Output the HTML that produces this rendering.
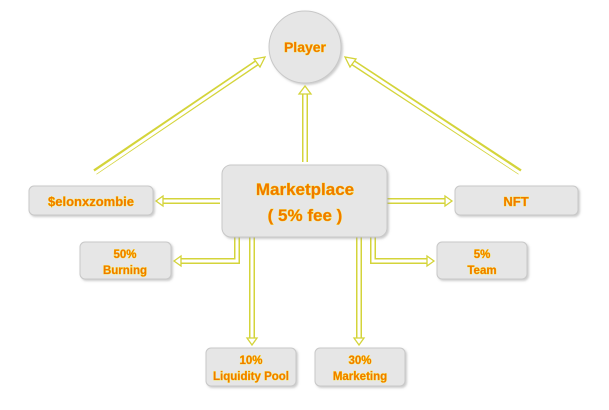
<!DOCTYPE html>
<html><head><meta charset="utf-8"><style>
html,body{margin:0;padding:0;background:#fff;width:609px;height:410px;overflow:hidden}
text{font-family:"Liberation Sans",sans-serif;font-weight:bold;fill:#f07800;stroke:#ffe800;stroke-width:0.6px;paint-order:stroke}
</style></head><body>
<svg width="609" height="410" viewBox="0 0 609 410" xmlns="http://www.w3.org/2000/svg">
<defs>
<filter id="sh" x="-10%" y="-10%" width="130%" height="130%"><feDropShadow dx="1.5" dy="1.5" stdDeviation="1" flood-color="#999" flood-opacity="0.5"/></filter>
</defs>
<g fill="none" stroke-linejoin="miter">
<g stroke="#d4d43a" stroke-width="6">
<polyline points="305,162 305,92"/>
<polyline points="95,172 258,62"/>
<polyline points="520,172 352,62"/>
<polyline points="220,201 162,201"/>
<polyline points="387,201 446,201"/>
<polyline points="237,237 237,261 180,261"/>
<polyline points="373,237 373,261 428,261"/>
<polyline points="252,237 252,339"/>
<polyline points="359,237 359,339"/>
</g>
<g stroke="#fff" stroke-width="3">
<polyline points="305,163 305,92"/>
<polyline points="95,173 258,62"/>
<polyline points="520,173 352,62"/>
<polyline points="221,201 162,201"/>
<polyline points="386,201 446,201"/>
<polyline points="237,236 237,261 180,261"/>
<polyline points="373,236 373,261 428,261"/>
<polyline points="252,236 252,339"/>
<polyline points="359,236 359,339"/>
</g>
</g>
<g fill="#fff" stroke="#d4d43a" stroke-width="1.3">
<polygon points="305,86 299,94 311,94"/>
<polygon points="265,57 254,59 260,67"/>
<polygon points="345,57 350,67 356,59"/>
<polygon points="156,201 163,196 163,206"/>
<polygon points="452,201 445,196 445,206"/>
<polygon points="174,261 181,256 181,266"/>
<polygon points="434,261 427,256 427,266"/>
<polygon points="252,345 247,338 257,338"/>
<polygon points="359,345 354,338 364,338"/>
</g>
<g fill="#e6e6e6" stroke="#c8c8c8" stroke-width="1" filter="url(#sh)">
<circle cx="305" cy="47" r="36"/>
<rect x="222" y="165" width="165" height="72" rx="9"/>
<rect x="29" y="186" width="124" height="29" rx="5"/>
<rect x="455" y="186" width="123" height="29" rx="5"/>
<rect x="80" y="242" width="91" height="37" rx="5"/>
<rect x="437" y="242" width="90" height="37" rx="5"/>
<rect x="206" y="348" width="90" height="38" rx="5"/>
<rect x="315" y="348" width="90" height="38" rx="5"/>
</g>
<g text-anchor="middle">
<text x="305" y="52" font-size="14">Player</text>
<text x="305" y="195" font-size="17">Marketplace</text>
<text x="305" y="221" font-size="17">( 5% fee )</text>
<text x="91" y="206" font-size="13">$elonxzombie</text>
<text x="516" y="206" font-size="13">NFT</text>
<text x="125" y="258" font-size="11.5">50%</text>
<text x="125" y="274" font-size="11.5">Burning</text>
<text x="482" y="258" font-size="11.5">5%</text>
<text x="482" y="274" font-size="11.5">Team</text>
<text x="251" y="364" font-size="11.5">10%</text>
<text x="251" y="380" font-size="11.5">Liquidity Pool</text>
<text x="360" y="364" font-size="11.5">30%</text>
<text x="360" y="380" font-size="11.5">Marketing</text>
</g>
</svg>
</body></html>
